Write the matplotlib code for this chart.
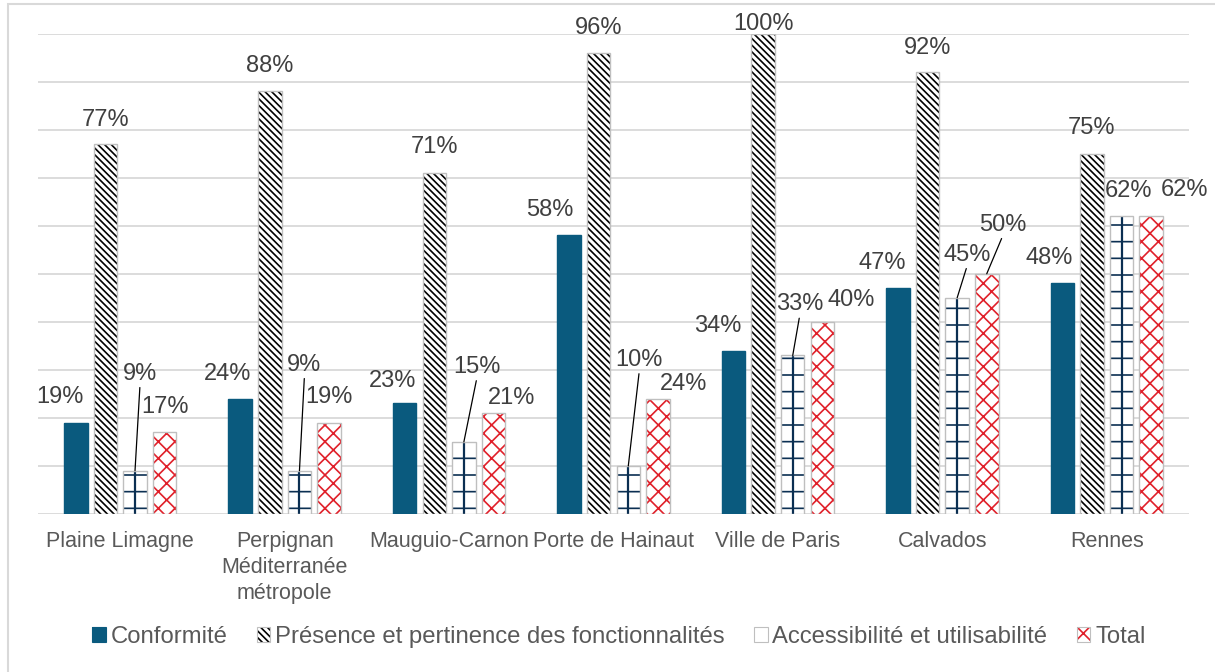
import numpy as np
import matplotlib
matplotlib.use("Agg")
import matplotlib.pyplot as plt
from matplotlib.patches import Patch, Rectangle
from matplotlib.legend_handler import HandlerTuple

plt.rcParams['font.family'] = ['Liberation Sans', 'DejaVu Sans']
plt.rcParams['hatch.linewidth'] = 1.2

categories = ["Plaine Limagne", "Perpignan\nMéditerranée\nmétropole", "Mauguio-Carnon",
              "Porte de Hainaut", "Ville de Paris", "Calvados", "Rennes"]
series_names = ["Conformité", "Présence et pertinence des fonctionnalités",
                "Accessibilité et utilisabilité", "Total"]
conformite = [19, 24, 23, 58, 34, 47, 48]
presence = [77, 88, 71, 96, 100, 92, 75]
accessibilite = [9, 9, 15, 10, 33, 45, 62]
total = [17, 19, 21, 24, 40, 50, 62]
values = [conformite, presence, accessibilite, total]

# label placement (pixels): horizontal shift, height above bar top, leader line
label_dx = [[-16, -13, -12, -19, -16, -16, -13],
            [0, 0, 0, 0, 0, 0, 0],
            [5, 5, 13, 11, 7, 10, 7],
            [0, 0, 18, 26, 29, 16, 33]]
label_gap = [[26, 25, 22, 25, 25, 25, 25],
             [24, 25, 26, 25, 10, 24, 26],
             [97, 106, 75, 106, 51, 43, 25],
             [25, 26, 15, 15, 22, 49, 26]]
leader = [[False] * 7,
          [False] * 7,
          [True, True, True, True, True, True, False],
          [False, False, False, False, False, True, False]]

# style per series: face, hatch, hatch colour, border
styles = [("#0A5A7E", None, "#0A5A7E", "#0A5A7E"),
          ("white", "\\" * 5, "black", "#bfbfbf"),
          ("white", "-", "#0B2F52", "#bfbfbf"),
          ("white", "xx", "#E0202A", "#bfbfbf")]

fig = plt.figure(figsize=(12.15, 6.72), dpi=100)
ax = fig.add_axes([38 / 1215, 1 - 514 / 672, (1189 - 38) / 1215, (514 - 33.5) / 672])

# chart border
fig.patches.append(Rectangle((8 / 1215, -0.1), 2, 1.1 - 4 / 672, transform=fig.transFigure,
                             fill=False, edgecolor="#d9d9d9", linewidth=1.5))

x = np.arange(len(categories))
pitch = 0.18
width = 0.143

handles = []
for i, vals in enumerate(values):
    face, hatch, hcol, border = styles[i]
    pos = x + (i - 1.5) * pitch
    ax.bar(pos, vals, width, color=face, hatch=hatch, edgecolor=hcol, linewidth=0, zorder=2)
    ax.bar(pos, vals, width, fill=False, edgecolor=border, linewidth=1, zorder=3)
    if i == 2:
        ax.vlines(pos, 0, vals, colors=hcol, linewidth=1.6, zorder=2.5)
    h1 = Patch(facecolor=face, hatch=hatch if hatch != "-" else None, edgecolor=hcol, linewidth=0)
    h2 = Patch(fill=False, edgecolor=border, linewidth=0.8)
    handles.append((h1, h2))
    for j, v in enumerate(vals):
        arrow = None
        if leader[i][j]:
            arrow = dict(arrowstyle="-", color="black", lw=0.9, shrinkA=0, shrinkB=0,
                         relpos=(0.5, 0))
        ax.annotate(f"{v}%", xy=(pos[j], v), xytext=(label_dx[i][j], label_gap[i][j]),
                    textcoords="offset pixels", ha="center", va="center",
                    fontsize=17, color="#404040", annotation_clip=False,
                    arrowprops=arrow, zorder=5)

ax.set_xlim(-0.5, len(categories) - 0.5)
ax.set_ylim(0, 100)
ax.set_yticks(np.arange(0, 101, 10))
ax.set_yticklabels([])
ax.tick_params(axis="y", length=0)
ax.tick_params(axis="x", length=0, pad=12, labelsize=15.5, labelcolor="#595959")
ax.set_xticks(x)
ax.set_xticklabels(categories, linespacing=1.32)
ax.grid(axis="y", color="#d9d9d9", linewidth=1.3)
ax.set_axisbelow(True)
for s in ax.spines.values():
    s.set_visible(False)

fig.legend(handles, series_names, handler_map={tuple: HandlerTuple(ndivide=1)},
           loc="center", bbox_to_anchor=(619 / 1215, 1 - 637 / 672), ncol=4, frameon=False,
           fontsize=17.2, labelcolor="#595959", handlelength=0.55, handleheight=0.55,
           handletextpad=0.2, columnspacing=1.25)

fig.savefig("out.png", dpi=100)
